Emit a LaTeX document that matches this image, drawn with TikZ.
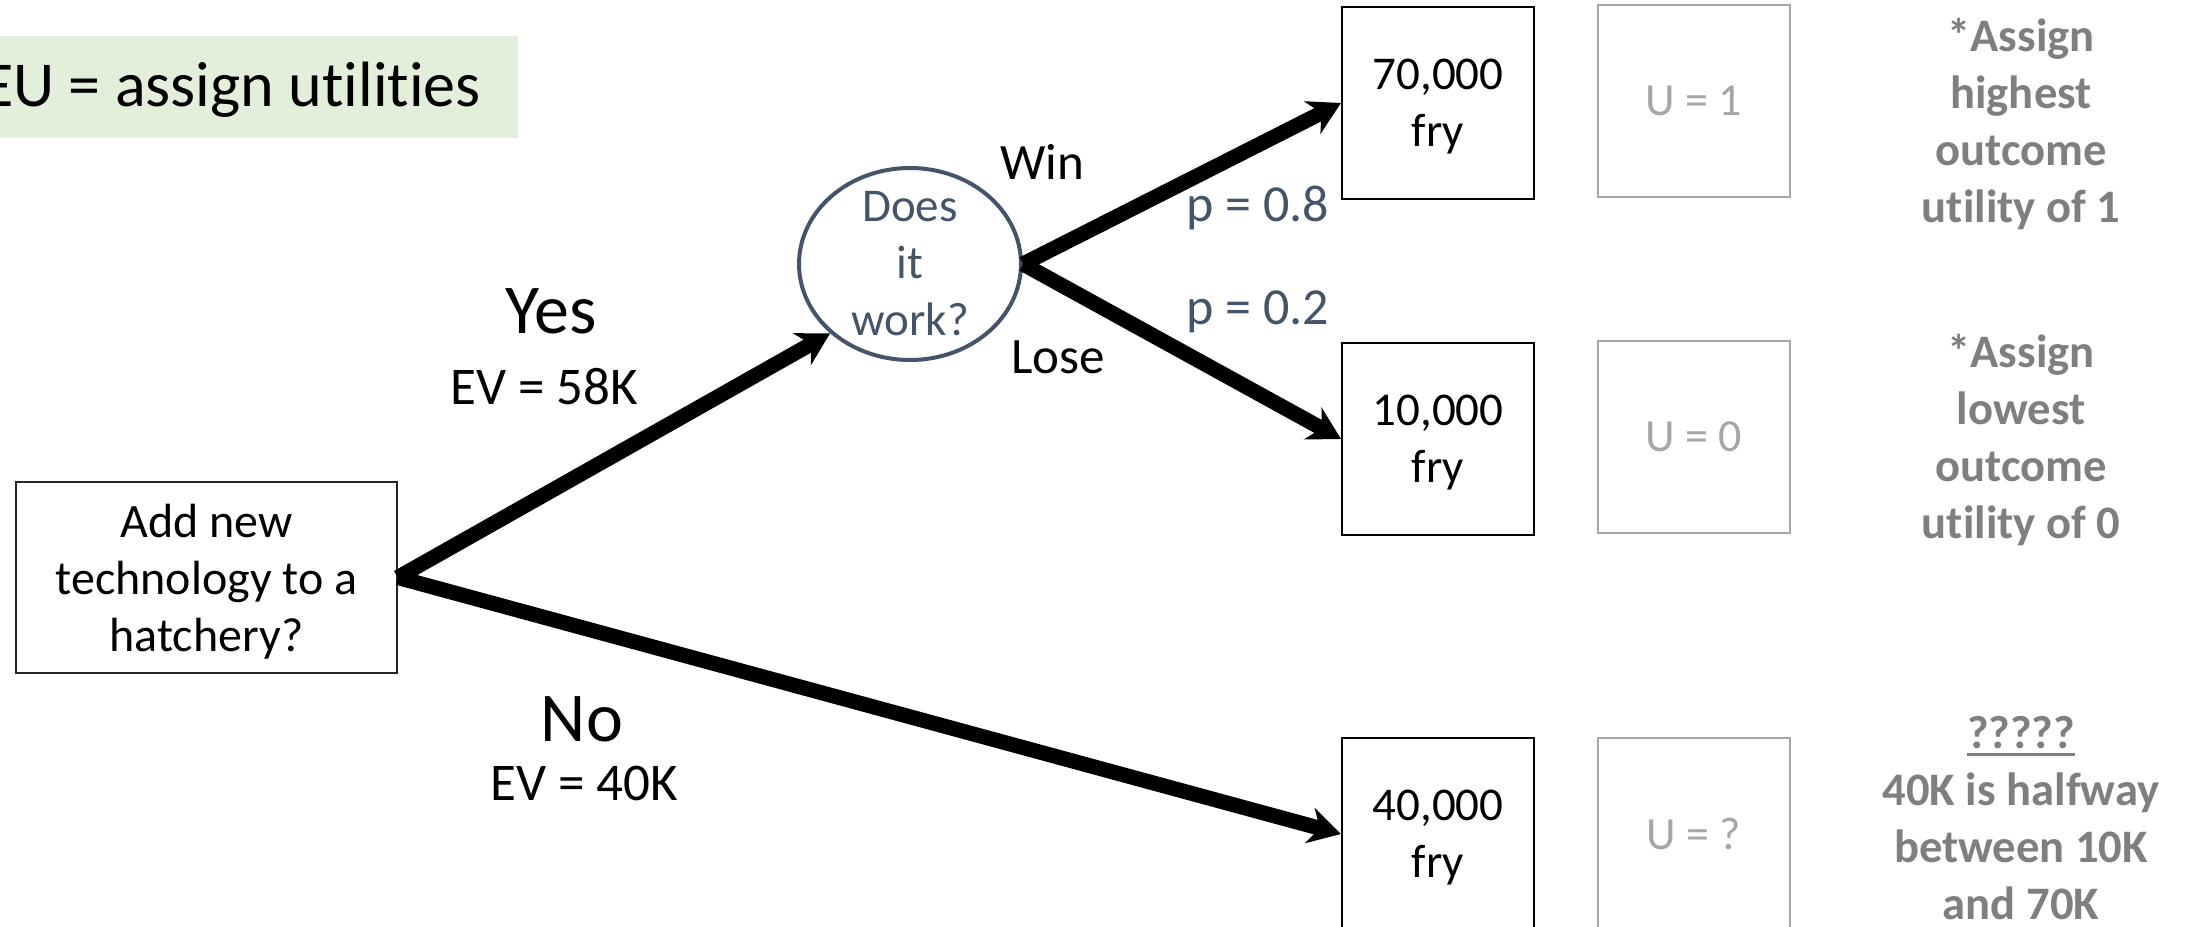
\documentclass[tikz,border=0pt]{standalone}
\usepackage{fontspec}
\setmainfont{Carlito}[Ligatures=NoCommon]
\usetikzlibrary{arrows.meta,shapes.geometric}
\definecolor{egreen}{HTML}{E2EFDA}
\definecolor{slate}{HTML}{44546A}
\definecolor{lgray}{HTML}{A6A6A6}
\definecolor{mgray}{HTML}{7F7F7F}
\newcommand\thickul[1]{\setbox0\hbox{#1}\rlap{\rule[-4pt]{\wd0}{1.5pt}}\box0}
\begin{document}
\begin{tikzpicture}[x=0.5pt,y=-0.5pt,
  outbox/.style={draw=black,line width=1pt,minimum width=96pt,minimum height=96pt,inner sep=0pt,text depth=0pt,align=center,font=\fontsize{23.5}{28.5}\selectfont},
  utilbox/.style={draw=lgray,line width=0.8pt,minimum width=96pt,minimum height=96pt,inner sep=0pt,text=lgray,font=\fontsize{23}{28}\selectfont},
  note/.style={text=mgray,align=center,font=\fontsize{23.3}{28.5}\selectfont\bfseries},
  branch/.style={line width=7.5pt,-{Stealth[length=16pt,width=18pt,inset=5pt]}},
  lab/.style={anchor=base,font=\fontsize{25.5}{30}\selectfont},
  evlab/.style={anchor=base,font=\fontsize{26.5}{31}\selectfont},
  big/.style={anchor=base,font=\fontsize{35}{42}\selectfont},
  prob/.style={anchor=base,text=slate,font=\fontsize{26}{31}\selectfont}]
\useasboundingbox (0,0) rectangle (2189,926);
\clip (0,0) rectangle (2189,926);

\node[fill=egreen,minimum width=259pt,minimum height=51pt,inner sep=0pt,anchor=north west] (eubox) at (0,36) {};
\node[anchor=base east,font=\fontsize{32}{38}\selectfont] (eu) at (488,106) {EU = assign utilities};

\node[draw=black!85,line width=0.75pt,minimum width=190.5pt,minimum height=95.5pt,inner sep=0pt,text depth=0pt,align=center,font=\fontsize{24}{28.5}\selectfont] (dec) at (206.5,577.5) {Add new\\technology to a\\hatchery?};

\node[ellipse,draw=slate,line width=2pt,minimum width=111pt,minimum height=96pt,inner sep=0pt] (chance) at (910,264) {};
\node[text=slate,align=center,font=\fontsize{23.5}{28.5}\selectfont] (chancetxt) at (910,264) {Does\\it\\work?};

\node[outbox] (o1) at (1438,103) {70,000\\fry};
\node[outbox] (o2) at (1438,439) {10,000\\fry};
\node[outbox] (o3) at (1438,834) {40,000\\fry};

\node[utilbox] (u1) at (1694,101) {U = 1};
\node[utilbox] (u2) at (1694,437) {U = 0};
\node[utilbox] (u3) at (1694,834) {U = ?};

\node[note] (n1) at (2021,124) {*Assign\\highest\\outcome\\utility of 1};
\node[note] (n2) at (2021,440) {*Assign\\lowest\\outcome\\utility of 0};
\node[note] (n3) at (2021,818) {\thickul{?????}\\40K is halfway\\between 10K\\and 70K};

\node[big] (yes) at (551,333) {Yes};
\node[evlab] (ev1) at (544,404) {EV = 58K};
\node[big] (no) at (582,741) {No};
\node[evlab] (ev2) at (584,800) {EV = 40K};
\node[lab] (win) at (1042,179) {Win};
\node[lab] (lose) at (1058,373) {Lose};
\node[prob] (p1) at (1258,221) {p = 0.8};
\node[prob] (p2) at (1258,324) {p = 0.2};

\draw[branch] (dec.east) -- (chance.south west);
\draw[branch] (chance.east) -- (o1.west);
\draw[branch] (chance.east) -- (o2.west);
\draw[branch] (dec.east) -- (o3.west);
\end{tikzpicture}
\end{document}
